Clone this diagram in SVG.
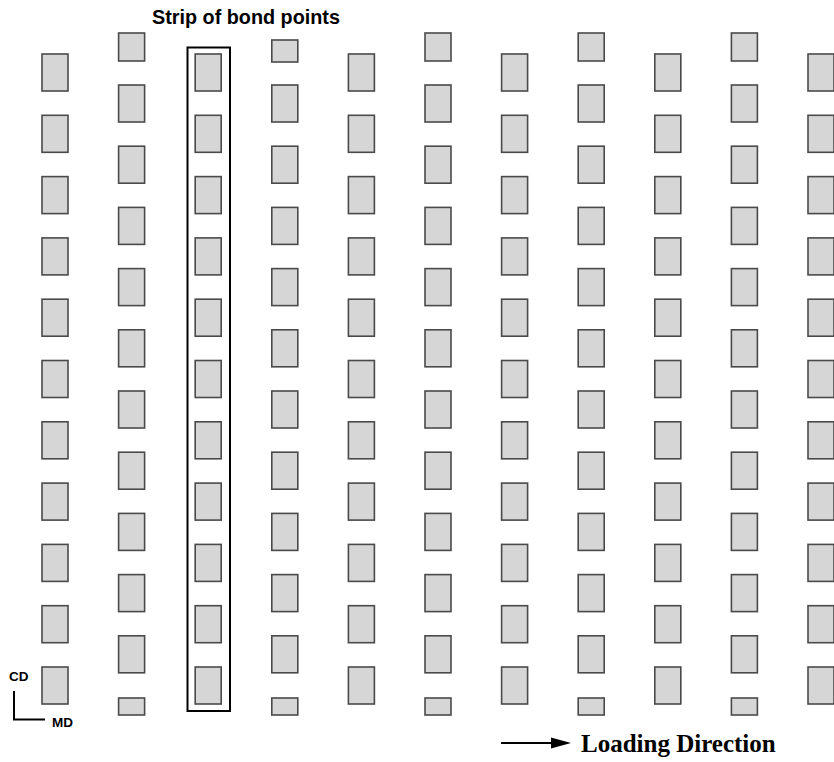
<svg xmlns="http://www.w3.org/2000/svg" width="834" height="762" viewBox="0 0 834 762">
<style>
.b{fill:#d6d6d6;stroke:#4a4a4a;stroke-width:1.6}
.t1{font-family:"Liberation Sans",Arial,sans-serif;font-weight:bold;fill:#000}
.t2{font-family:"Liberation Serif","Times New Roman",serif;font-weight:bold;fill:#000}
.ln{stroke:#000;stroke-width:2;fill:none}
</style>
<rect width="834" height="762" fill="#fff"/>
<g id="col1">
<rect class="b" x="42" y="54" width="26" height="37"/><rect class="b" x="42" y="115.3" width="26" height="37"/><rect class="b" x="42" y="176.6" width="26" height="37"/><rect class="b" x="42" y="237.9" width="26" height="37"/><rect class="b" x="42" y="299.2" width="26" height="37"/><rect class="b" x="42" y="360.5" width="26" height="37"/><rect class="b" x="42" y="421.8" width="26" height="37"/><rect class="b" x="42" y="483.1" width="26" height="37"/><rect class="b" x="42" y="544.4" width="26" height="37"/><rect class="b" x="42" y="605.7" width="26" height="37"/><rect class="b" x="42" y="667" width="26" height="37"/>
</g>
<g id="col2">
<rect class="b" x="118.6" y="33" width="26" height="28"/><rect class="b" x="118.6" y="85" width="26" height="37"/><rect class="b" x="118.6" y="146.2" width="26" height="37"/><rect class="b" x="118.6" y="207.4" width="26" height="37"/><rect class="b" x="118.6" y="268.6" width="26" height="37"/><rect class="b" x="118.6" y="329.8" width="26" height="37"/><rect class="b" x="118.6" y="391" width="26" height="37"/><rect class="b" x="118.6" y="452.2" width="26" height="37"/><rect class="b" x="118.6" y="513.4" width="26" height="37"/><rect class="b" x="118.6" y="574.6" width="26" height="37"/><rect class="b" x="118.6" y="635.8" width="26" height="37"/><rect class="b" x="118.6" y="698" width="26" height="17"/>
</g>
<g id="col3">
<rect class="b" x="195.2" y="54" width="26" height="37"/><rect class="b" x="195.2" y="115.3" width="26" height="37"/><rect class="b" x="195.2" y="176.6" width="26" height="37"/><rect class="b" x="195.2" y="237.9" width="26" height="37"/><rect class="b" x="195.2" y="299.2" width="26" height="37"/><rect class="b" x="195.2" y="360.5" width="26" height="37"/><rect class="b" x="195.2" y="421.8" width="26" height="37"/><rect class="b" x="195.2" y="483.1" width="26" height="37"/><rect class="b" x="195.2" y="544.4" width="26" height="37"/><rect class="b" x="195.2" y="605.7" width="26" height="37"/><rect class="b" x="195.2" y="667" width="26" height="37"/>
</g>
<g id="col4">
<rect class="b" x="271.8" y="40" width="26" height="22"/><rect class="b" x="271.8" y="85" width="26" height="37"/><rect class="b" x="271.8" y="146.2" width="26" height="37"/><rect class="b" x="271.8" y="207.4" width="26" height="37"/><rect class="b" x="271.8" y="268.6" width="26" height="37"/><rect class="b" x="271.8" y="329.8" width="26" height="37"/><rect class="b" x="271.8" y="391" width="26" height="37"/><rect class="b" x="271.8" y="452.2" width="26" height="37"/><rect class="b" x="271.8" y="513.4" width="26" height="37"/><rect class="b" x="271.8" y="574.6" width="26" height="37"/><rect class="b" x="271.8" y="635.8" width="26" height="37"/><rect class="b" x="271.8" y="698" width="26" height="17"/>
</g>
<g id="col5">
<rect class="b" x="348.4" y="54" width="26" height="37"/><rect class="b" x="348.4" y="115.3" width="26" height="37"/><rect class="b" x="348.4" y="176.6" width="26" height="37"/><rect class="b" x="348.4" y="237.9" width="26" height="37"/><rect class="b" x="348.4" y="299.2" width="26" height="37"/><rect class="b" x="348.4" y="360.5" width="26" height="37"/><rect class="b" x="348.4" y="421.8" width="26" height="37"/><rect class="b" x="348.4" y="483.1" width="26" height="37"/><rect class="b" x="348.4" y="544.4" width="26" height="37"/><rect class="b" x="348.4" y="605.7" width="26" height="37"/><rect class="b" x="348.4" y="667" width="26" height="37"/>
</g>
<g id="col6">
<rect class="b" x="425" y="33" width="26" height="28"/><rect class="b" x="425" y="85" width="26" height="37"/><rect class="b" x="425" y="146.2" width="26" height="37"/><rect class="b" x="425" y="207.4" width="26" height="37"/><rect class="b" x="425" y="268.6" width="26" height="37"/><rect class="b" x="425" y="329.8" width="26" height="37"/><rect class="b" x="425" y="391" width="26" height="37"/><rect class="b" x="425" y="452.2" width="26" height="37"/><rect class="b" x="425" y="513.4" width="26" height="37"/><rect class="b" x="425" y="574.6" width="26" height="37"/><rect class="b" x="425" y="635.8" width="26" height="37"/><rect class="b" x="425" y="698" width="26" height="17"/>
</g>
<g id="col7">
<rect class="b" x="501.6" y="54" width="26" height="37"/><rect class="b" x="501.6" y="115.3" width="26" height="37"/><rect class="b" x="501.6" y="176.6" width="26" height="37"/><rect class="b" x="501.6" y="237.9" width="26" height="37"/><rect class="b" x="501.6" y="299.2" width="26" height="37"/><rect class="b" x="501.6" y="360.5" width="26" height="37"/><rect class="b" x="501.6" y="421.8" width="26" height="37"/><rect class="b" x="501.6" y="483.1" width="26" height="37"/><rect class="b" x="501.6" y="544.4" width="26" height="37"/><rect class="b" x="501.6" y="605.7" width="26" height="37"/><rect class="b" x="501.6" y="667" width="26" height="37"/>
</g>
<g id="col8">
<rect class="b" x="578.2" y="33" width="26" height="28"/><rect class="b" x="578.2" y="85" width="26" height="37"/><rect class="b" x="578.2" y="146.2" width="26" height="37"/><rect class="b" x="578.2" y="207.4" width="26" height="37"/><rect class="b" x="578.2" y="268.6" width="26" height="37"/><rect class="b" x="578.2" y="329.8" width="26" height="37"/><rect class="b" x="578.2" y="391" width="26" height="37"/><rect class="b" x="578.2" y="452.2" width="26" height="37"/><rect class="b" x="578.2" y="513.4" width="26" height="37"/><rect class="b" x="578.2" y="574.6" width="26" height="37"/><rect class="b" x="578.2" y="635.8" width="26" height="37"/><rect class="b" x="578.2" y="698" width="26" height="17"/>
</g>
<g id="col9">
<rect class="b" x="654.8" y="54" width="26" height="37"/><rect class="b" x="654.8" y="115.3" width="26" height="37"/><rect class="b" x="654.8" y="176.6" width="26" height="37"/><rect class="b" x="654.8" y="237.9" width="26" height="37"/><rect class="b" x="654.8" y="299.2" width="26" height="37"/><rect class="b" x="654.8" y="360.5" width="26" height="37"/><rect class="b" x="654.8" y="421.8" width="26" height="37"/><rect class="b" x="654.8" y="483.1" width="26" height="37"/><rect class="b" x="654.8" y="544.4" width="26" height="37"/><rect class="b" x="654.8" y="605.7" width="26" height="37"/><rect class="b" x="654.8" y="667" width="26" height="37"/>
</g>
<g id="col10">
<rect class="b" x="731.4" y="33" width="26" height="28"/><rect class="b" x="731.4" y="85" width="26" height="37"/><rect class="b" x="731.4" y="146.2" width="26" height="37"/><rect class="b" x="731.4" y="207.4" width="26" height="37"/><rect class="b" x="731.4" y="268.6" width="26" height="37"/><rect class="b" x="731.4" y="329.8" width="26" height="37"/><rect class="b" x="731.4" y="391" width="26" height="37"/><rect class="b" x="731.4" y="452.2" width="26" height="37"/><rect class="b" x="731.4" y="513.4" width="26" height="37"/><rect class="b" x="731.4" y="574.6" width="26" height="37"/><rect class="b" x="731.4" y="635.8" width="26" height="37"/><rect class="b" x="731.4" y="698" width="26" height="17"/>
</g>
<g id="col11">
<rect class="b" x="808" y="54" width="26" height="37"/><rect class="b" x="808" y="115.3" width="26" height="37"/><rect class="b" x="808" y="176.6" width="26" height="37"/><rect class="b" x="808" y="237.9" width="26" height="37"/><rect class="b" x="808" y="299.2" width="26" height="37"/><rect class="b" x="808" y="360.5" width="26" height="37"/><rect class="b" x="808" y="421.8" width="26" height="37"/><rect class="b" x="808" y="483.1" width="26" height="37"/><rect class="b" x="808" y="544.4" width="26" height="37"/><rect class="b" x="808" y="605.7" width="26" height="37"/><rect class="b" x="808" y="667" width="26" height="37"/>
</g>
<g id="strip">
<rect x="187.5" y="47.5" width="42.5" height="663.5" fill="none" stroke="#000" stroke-width="2"/>
<text class="t1" x="152" y="24" font-size="19.8">Strip of bond points</text>
</g>
<g id="axes">
<text class="t1" x="9" y="680.5" font-size="13.5">CD</text>
<text class="t1" x="52" y="726.5" font-size="13.5">MD</text>
</g>
<g id="loading-label">
<text class="t2" x="581" y="752" font-size="25">Loading Direction</text>
</g>
<g id="connectors">
<path class="ln" d="M14,691V719.5H45"/>
<line class="ln" x1="501" y1="743" x2="554" y2="743"/>
<polygon points="551,737.5 571,743 551,748.5" fill="#000"/>
</g>
</svg>
